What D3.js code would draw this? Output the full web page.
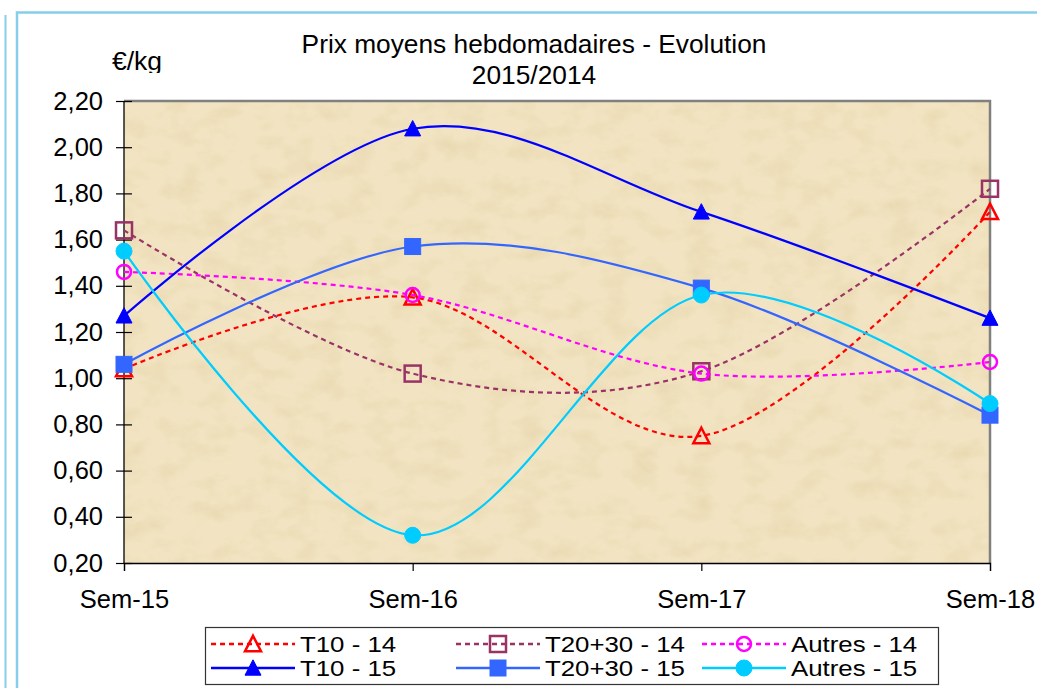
<!DOCTYPE html>
<html><head><meta charset="utf-8">
<script src="https://cdn.jsdelivr.net/npm/d3@7"></script>
<style>html,body{margin:0;padding:0;background:#fff;}svg{display:block;font-family:"Liberation Sans",Arial,sans-serif;}</style>
</head><body>
<svg id="c" width="1037" height="688"></svg>
<script>
const categories = ["Sem-15","Sem-16","Sem-17","Sem-18"];
const yTicks = [0.2,0.4,0.6,0.8,1.0,1.2,1.4,1.6,1.8,2.0,2.2];
const seriesNames = ["T10 - 14","T20+30 - 14","Autres - 14","T10 - 15","T20+30 - 15","Autres - 15"];
const t10_14 = [1.04,1.35,0.75,1.72];
const t2030_14 = [1.64,1.02,1.03,1.82];
const autres_14 = [1.46,1.36,1.02,1.07];
const t10_15 = [1.27,2.08,1.72,1.26];
const t2030_15 = [1.06,1.57,1.39,0.84];
const autres_15 = [1.55,0.32,1.36,0.89];
const titleLines = ["Prix moyens hebdomadaires - Evolution","2015/2014"];
const unitLabel = "€/kg";

const styles = [
  {color:"#FF0000", dash:"5,4", marker:"triangle", filled:false},
  {color:"#993366", dash:"5,4", marker:"square", filled:false},
  {color:"#FF00FF", dash:"5,4", marker:"circle", filled:false},
  {color:"#0000FF", dash:null, marker:"triangle", filled:true},
  {color:"#3366FF", dash:null, marker:"square", filled:true},
  {color:"#00CCFF", dash:null, marker:"circle", filled:true}
];
const values = [t10_14,t2030_14,autres_14,t10_15,t2030_15,autres_15];

const svg = d3.select("#c");
const W = 1037, H = 688;
const plot = {l:124, r:990, t:101, b:563};

// frames
svg.append("line").attr("x1",5.5).attr("x2",5.5).attr("y1",15).attr("y2",H).attr("stroke","#87CEEB").attr("stroke-width",2);
svg.append("rect").attr("x",17).attr("y",12.5).attr("width",W+10).attr("height",H+10)
  .attr("fill","none").attr("stroke","#87CEEB").attr("stroke-width",2.5);

const defs = svg.append("defs");
const f = defs.append("filter").attr("id","paper").attr("x",0).attr("y",0).attr("width","100%").attr("height","100%");
f.append("feTurbulence").attr("type","fractalNoise").attr("baseFrequency","0.035 0.05").attr("numOctaves",4).attr("seed",11).attr("result","n");
f.append("feColorMatrix").attr("in","n").attr("type","matrix")
  .attr("values","0 0 0 0 0.70  0 0 0 0 0.56  0 0 0 0 0.30  0.7 0 0 0 -0.30").attr("result","c");
f.append("feComposite").attr("in","c").attr("in2","SourceGraphic").attr("operator","in");
defs.append("clipPath").attr("id","unitclip").append("rect").attr("x",100).attr("y",40).attr("width",66).attr("height",33);

const x = d3.scalePoint().domain(categories).range([plot.l, plot.r]).padding(0);
const y = d3.scaleLinear().domain([0.2,2.2]).range([plot.b, plot.t]);

// plot background
svg.append("rect").attr("x",plot.l).attr("y",plot.t).attr("width",plot.r-plot.l).attr("height",plot.b-plot.t).attr("fill","#F2E4C2");
svg.append("rect").attr("x",plot.l).attr("y",plot.t).attr("width",plot.r-plot.l).attr("height",plot.b-plot.t).attr("fill","#fff").attr("filter","url(#paper)");
// top/right gray border
svg.append("path").attr("d",`M${plot.l},${plot.t}H${plot.r}V${plot.b}`).attr("fill","none").attr("stroke","#808080").attr("stroke-width",2.5);

// axes
const fmt = d => d3.format(".2f")(d).replace(".",",");
const yAxis = svg.append("g").attr("transform",`translate(${plot.l},0)`)
  .call(d3.axisLeft(y).tickValues(yTicks).tickFormat(fmt).tickSizeOuter(0).tickSize(8).tickPadding(13));
yAxis.selectAll(".tick line").attr("x2",-8).attr("x1",8);
const xAxis = svg.append("g").attr("transform",`translate(0,${plot.b})`)
  .call(d3.axisBottom(x).tickSizeOuter(0).tickSize(8).tickPadding(19));
[yAxis,xAxis].forEach(a=>{
  a.select(".domain").attr("stroke","#000").attr("stroke-width",1.3);
  a.selectAll(".tick line").attr("stroke","#000").attr("stroke-width",1.2);
  a.selectAll("text").attr("fill","#000").attr("font-size",25.5).attr("font-family","Liberation Sans, Arial, sans-serif");
});
yAxis.select(".domain").attr("d",`M0,${plot.t}V${plot.b}`);
xAxis.selectAll("text").attr("dy","0.72em");

// titles
svg.append("g").selectAll("text").data(titleLines).join("text")
  .attr("x",534).attr("y",(d,i)=>53+i*31).attr("text-anchor","middle").attr("font-size",26.3).attr("fill","#000").text(d=>d);
svg.append("text").attr("x",112).attr("y",70).attr("font-size",26.5).attr("clip-path","url(#unitclip)").text(unitLabel);

const line = d3.line().x((d,i)=>x(categories[i])).y(d=>y(d)).curve(d3.curveCardinal.tension(0));

function drawMarker(g, type, cx, cy, st, s){
  const fill = st.filled ? st.color : "none";
  if(type==="triangle"){
    const h = s*0.9;
    g.append("path").attr("d",`M${cx},${cy-h/2-1}L${cx+s/2},${cy+h/2}L${cx-s/2},${cy+h/2}Z`)
      .attr("fill",fill).attr("stroke",st.color).attr("stroke-width",st.filled?1:2.5);
  } else if(type==="square"){
    g.append("rect").attr("x",cx-s/2).attr("y",cy-s/2).attr("width",s).attr("height",s)
      .attr("fill",fill).attr("stroke",st.color).attr("stroke-width",st.filled?1:2.5);
  } else {
    g.append("circle").attr("cx",cx).attr("cy",cy).attr("r",st.filled?s/2:s/2-1)
      .attr("fill",fill).attr("stroke",st.color).attr("stroke-width",st.filled?1:2.5);
  }
}

values.forEach((vals,si)=>{
  const st = styles[si];
  const g = svg.append("g");
  g.append("path").attr("d",line(vals)).attr("fill","none").attr("stroke",st.color)
    .attr("stroke-width",2.2).attr("stroke-dasharray",st.dash);
  vals.forEach((v,i)=>drawMarker(g, st.marker, x(categories[i]), y(v), st, 16));
});

// legend
const lg = svg.append("g");
lg.append("rect").attr("x",205.5).attr("y",627.5).attr("width",733).attr("height",57).attr("fill","#fff").attr("stroke","#333").attr("stroke-width",1.2);
const colX = [211,456,702];
const rowY = [644,668];
seriesNames.forEach((name,i)=>{
  const st = styles[i];
  const cx = colX[i%3], cy = rowY[Math.floor(i/3)];
  lg.append("line").attr("x1",cx).attr("x2",cx+84).attr("y1",cy).attr("y2",cy).attr("stroke",st.color).attr("stroke-width",2.4).attr("stroke-dasharray",st.dash);
  drawMarker(lg, st.marker, cx+42, cy, st, 16);
  const t = lg.append("text").attr("x",cx+89).attr("y",cy).attr("dy","0.36em").attr("font-size",21.5).attr("fill","#000").text(name);
  const w = t.node().getComputedTextLength();
  t.attr("textLength", w*1.2).attr("lengthAdjust","spacingAndGlyphs");
});
</script>
</body></html>
